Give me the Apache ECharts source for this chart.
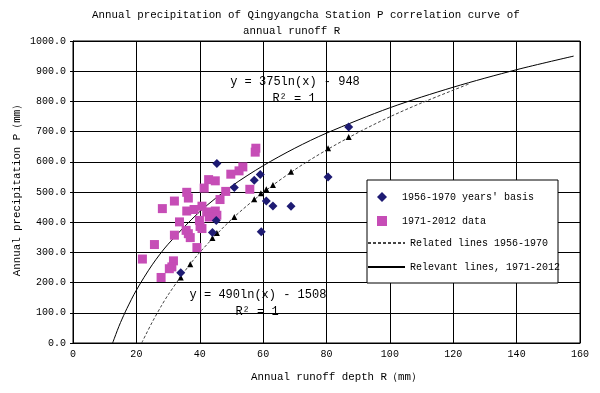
<!DOCTYPE html>
<html>
<head>
<meta charset="utf-8">
<script src="https://cdn.jsdelivr.net/npm/echarts@6/dist/echarts.min.js"></script>
<style>
html, body { margin: 0; padding: 0; background: #fff; }
#main { width: 600px; height: 393px; }
</style>
</head>
<body>
<div id="main"></div>
<script>
var myChart = echarts.init(document.getElementById('main'));
var FONT = '"Liberation Mono", monospace';

// 1956-1970 measured points (runoff R, precipitation P)
var basisR = [87.0, 45.4, 59.1, 57.2, 50.9, 80.5, 61.0, 63.1, 68.8, 59.4, 45.2, 44.0, 34.0];
var basisP = [715, 594, 558, 539, 515, 550, 470, 454, 453, 368, 406, 366, 233];

// 1956-1970 fitted points on the dashed curve
var fitR = [34.0, 37.0, 44.0, 45.4, 50.9, 57.2, 59.3, 61.0, 63.1, 68.8, 80.5, 87.0];
var fitP = [217, 261, 348, 364, 417, 476, 496, 509, 523, 567, 645, 682];

// 1971-2012 data
var dataR = [57.7, 57.5, 53.6, 52.4, 49.8, 42.8, 44.9, 41.4, 55.8, 48.2, 35.9, 36.4,
    46.4, 32.0, 28.2, 40.7, 38.2, 35.9, 42.2, 44.9, 45.4, 43.0, 39.9, 33.6, 40.1,
    35.7, 36.4, 37.0, 40.7, 32.0, 39.1, 25.7, 21.9, 31.7, 31.2, 30.4, 27.8];
var dataP = [645, 632, 583, 570, 559, 541, 537, 513, 509, 502, 499, 480,
    475, 470, 445, 453, 442, 437, 434, 437, 423, 417, 406, 401, 386,
    373, 362, 349, 379, 357, 316, 326, 278, 272, 252, 246, 217];

// curve points
var solidR = [12.5, 13, 14, 15, 17, 20, 25, 30, 40, 50, 60, 70, 80, 100, 120, 140, 158];
var solidP = [0, 14, 42, 68, 114, 175, 259, 327, 435, 519, 587, 645, 695, 779, 847, 905, 950];
var dashR = [21.7, 22, 23, 25, 28, 30, 35, 40, 50, 60, 70, 80, 90, 100, 110, 125];
var dashP = [0, 7, 28, 69, 125, 159, 234, 300, 409, 498, 574, 639, 697, 749, 795, 858];

function pairs(xs, ys) {
    return xs.map(function (x, i) { return [x, ys[i]]; });
}

var nameBasis = "1956-1970 years' basis";
var nameData = '1971-2012 data';
var nameRelated = 'Related lines 1956-1970';
var nameRelevant = 'Relevant lines, 1971-2012';

var titleStyle = { fontFamily: FONT, fontSize: 10.8, fontWeight: 'normal', color: '#000' };

myChart.setOption({
    backgroundColor: '#fff',
    animation: false,
    textStyle: { fontFamily: FONT },
    title: [{
        text: 'Annual precipitation of Qingyangcha Station P correlation curve of',
        left: 92, top: 10, padding: 0,
        textStyle: titleStyle
    }, {
        text: 'annual runoff R',
        left: 243, top: 26, padding: 0,
        textStyle: titleStyle
    }],
    grid: {
        left: 73, right: 20, top: 41, bottom: 50,
        show: true, borderColor: '#000', borderWidth: 1
    },
    legend: [{
        orient: 'vertical',
        left: 377, top: 192, padding: 0,
        itemWidth: 10, itemHeight: 10, itemGap: 14,
        data: [nameBasis, nameData],
        textStyle: { fontFamily: FONT, fontSize: 10, color: '#000', padding: [0, 0, 0, 10] },
        z: 10
    }, {
        orient: 'vertical',
        left: 367, top: 238, padding: 0,
        itemWidth: 37, itemHeight: 10, itemGap: 14,
        data: [nameRelated, nameRelevant],
        itemStyle: { opacity: 0 },
        textStyle: { fontFamily: FONT, fontSize: 10, color: '#000' },
        z: 10
    }],
    graphic: [{
        type: 'rect',
        z: 5,
        shape: { x: 367, y: 180, width: 191, height: 103 },
        style: { fill: '#fff', stroke: '#000', lineWidth: 1 }
    }, {
        type: 'text', z: 6,
        style: { text: 'y = 375ln(x) - 948', x: 295, y: 82, textAlign: 'center', textVerticalAlign: 'middle',
            fontFamily: FONT, fontSize: 12, fill: '#000' }
    }, {
        type: 'text', z: 6,
        style: { text: 'R² = 1', x: 294, y: 99, textAlign: 'center', textVerticalAlign: 'middle',
            fontFamily: FONT, fontSize: 12, fill: '#000' }
    }, {
        type: 'text', z: 6,
        style: { text: 'y = 490ln(x) - 1508', x: 258, y: 295, textAlign: 'center', textVerticalAlign: 'middle',
            fontFamily: FONT, fontSize: 12, fill: '#000' }
    }, {
        type: 'text', z: 6,
        style: { text: 'R² = 1', x: 257, y: 312, textAlign: 'center', textVerticalAlign: 'middle',
            fontFamily: FONT, fontSize: 12, fill: '#000' }
    }],
    xAxis: {
        type: 'value',
        min: 0, max: 160, interval: 20,
        name: 'Annual runoff depth R（mm）',
        nameLocation: 'middle',
        nameGap: 29,
        nameTextStyle: { fontFamily: FONT, fontSize: 10.8, color: '#000', padding: [0, 0, 0, 20] },
        axisLine: { lineStyle: { color: '#000' } },
        axisTick: { show: false },
        axisLabel: { color: '#000', fontSize: 10, fontFamily: FONT, margin: 6 },
        splitLine: { lineStyle: { color: '#000', width: 1 } }
    },
    yAxis: {
        type: 'value',
        min: 0, max: 1000, interval: 100,
        name: 'Annual precipitation P（mm）',
        nameLocation: 'middle',
        nameRotate: 90,
        nameGap: 50,
        nameMoveOverlap: false,
        nameTextStyle: { fontFamily: FONT, fontSize: 10.8, color: '#000', padding: [0, 0, 0, 9] },
        axisLine: { show: true, lineStyle: { color: '#000' } },
        axisTick: { show: true, length: 3, lineStyle: { color: '#000' } },
        axisLabel: {
            color: '#000', fontSize: 10, fontFamily: FONT, margin: 7,
            formatter: function (v) { return v.toFixed(1); }
        },
        splitLine: { lineStyle: { color: '#000', width: 1 } }
    },
    series: [{
        name: nameRelevant,
        type: 'line',
        smooth: 0.3,
        symbol: 'none',
        data: pairs(solidR, solidP),
        lineStyle: { color: '#000', width: 1 },
        itemStyle: { color: '#000' },
        z: 2
    }, {
        name: nameRelated,
        type: 'line',
        smooth: 0.3,
        symbol: 'none',
        data: pairs(dashR, dashP),
        lineStyle: { color: '#444', width: 1, type: [3, 2] },
        itemStyle: { color: '#444' },
        z: 2
    }, {
        name: 'fit',
        type: 'scatter',
        symbol: 'triangle',
        symbolSize: 6,
        data: pairs(fitR, fitP),
        itemStyle: { color: '#000', opacity: 1 },
        z: 3
    }, {
        name: nameData,
        type: 'scatter',
        symbol: 'rect',
        symbolSize: 9,
        data: pairs(dataR, dataP),
        itemStyle: { color: '#C64DB6', opacity: 1 },
        z: 4
    }, {
        name: nameBasis,
        type: 'scatter',
        symbol: 'diamond',
        symbolSize: 9,
        data: pairs(basisR, basisP),
        itemStyle: { color: '#1E1B73', opacity: 1 },
        z: 5
    }]
});
</script>
</body>
</html>
